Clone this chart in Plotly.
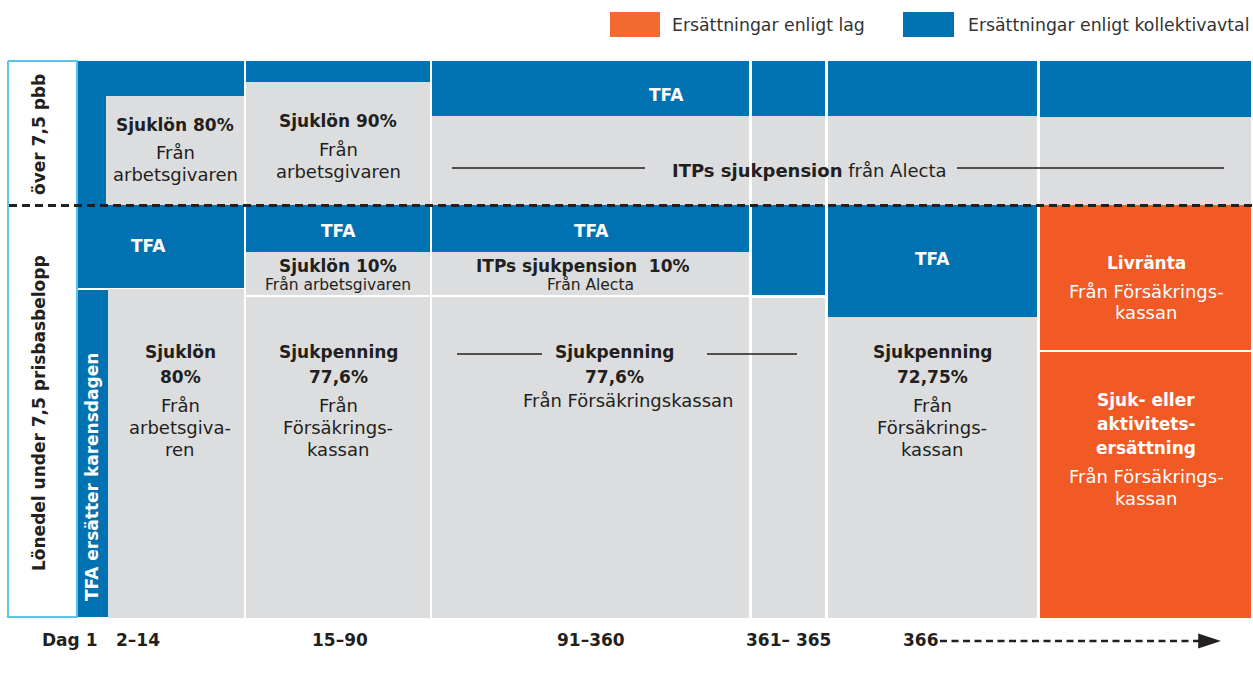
import plotly.graph_objects as go

# ---------------- data ----------------
# Period labels along the bottom
period_labels = ["Dag 1", "2–14", "15–90", "91–360", "361– 365", "366"]
period_x = [70, 138, 340, 591, 788, 921]

# Column edges (diagram units)
col_x0 = [77, 246, 432, 752, 828, 1040]
col_x1 = [244, 430, 749, 825, 1037, 1251]

# Blocks: column index, top, bottom, kind
blk_col = [0, 1, 1, 2, 2, 3, 3, 4, 4, 5, 5,
           0, 1, 1, 1, 2, 2, 2, 3, 3, 4, 4, 5, 5]
blk_y0 = [61, 61, 82, 61, 116, 61, 116, 61, 116, 61, 117,
          205, 205, 252, 297, 205, 252, 297, 205, 298, 205, 317, 205, 352]
blk_y1 = [205, 82, 205, 116, 205, 116, 205, 116, 205, 117, 205,
          288, 252, 295, 618, 252, 295, 618, 295, 618, 317, 618, 350, 618]
blk_kind = ["avtal", "avtal", "other", "avtal", "other", "avtal", "other", "avtal", "other", "avtal", "other",
            "avtal", "avtal", "other", "other", "avtal", "other", "other", "avtal", "other", "avtal", "other", "lag", "lag"]

# Extra sub-blocks in the first column
sub_x0 = [106, 108, 77]
sub_x1 = [244, 244, 108]
sub_y0 = [96, 289, 290]
sub_y1 = [205, 618, 617]
sub_kind = ["other", "other", "avtal"]

legend_names = ["Ersättningar enligt lag", "Ersättningar enligt kollektivavtal"]

# ---------------- styles ----------------
BLUE = "#0072b2"
GREY = "#dcdddf"
ORANGE = "#f15a24"
DARK = "#231f20"
CYAN = "#5cc3ea"
FONT = "DejaVu Sans, Liberation Sans, Arial, sans-serif"
kind_color = {"avtal": BLUE, "other": GREY, "lag": ORANGE}
B = 17      # bold size
R = 18      # regular size
S = 15.5    # small size

fig = go.Figure()

def add_blocks(x0s, x1s, y0s, y1s, kinds):
    fig.add_trace(go.Bar(
        x=[(a + b) / 2 for a, b in zip(x0s, x1s)],
        width=[b - a for a, b in zip(x0s, x1s)],
        base=y0s,
        y=[b - a for a, b in zip(y0s, y1s)],
        marker=dict(color=[kind_color[k] for k in kinds], line=dict(width=0)),
        hoverinfo="skip", showlegend=False,
    ))

add_blocks([col_x0[c] for c in blk_col], [col_x1[c] for c in blk_col], blk_y0, blk_y1, blk_kind)
add_blocks(sub_x0, sub_x1, sub_y0, sub_y1, sub_kind)

# legend swatches
fig.add_trace(go.Bar(
    x=[635, 928.5], width=[50, 51], base=[12, 12], y=[25, 25],
    marker=dict(color=["#f36a30", BLUE], line=dict(width=0)),
    hoverinfo="skip", showlegend=False,
))

# left label box outline
fig.add_trace(go.Scatter(
    x=[8, 77, 77, 8, 8], y=[61, 61, 617, 617, 61], mode="lines",
    line=dict(color=CYAN, width=2), hoverinfo="skip", showlegend=False,
))

# dashed separator
fig.add_trace(go.Scatter(
    x=[9, 1253], y=[205.5, 205.5], mode="lines",
    line=dict(color=DARK, width=3, dash="8px,5px"), hoverinfo="skip", showlegend=False,
))

# guide lines
for xs, y in [([452, 645], 168), ([957, 1224], 168), ([457, 542], 354), ([707, 797], 354)]:
    fig.add_trace(go.Scatter(
        x=xs, y=[y, y], mode="lines", line=dict(color=DARK, width=1.5),
        hoverinfo="skip", showlegend=False,
    ))

# bottom arrow
fig.add_trace(go.Scatter(
    x=[940, 1212], y=[641, 641], mode="lines",
    line=dict(color=DARK, width=2.6, dash="7px,4.5px"), hoverinfo="skip", showlegend=False,
))
fig.add_trace(go.Scatter(
    x=[1221], y=[641], mode="markers",
    marker=dict(symbol="arrow", angle=90, size=24, color=DARK, line=dict(width=0)),
    hoverinfo="skip", showlegend=False,
))

def txt(x, y, s, size=17, color=DARK, angle=0):
    fig.add_annotation(x=x, y=y, text=s, showarrow=False, textangle=angle,
                       font=dict(family=FONT, size=size, color=color),
                       xanchor="center", yanchor="middle")

# legend text
for x, name in zip([670, 966], legend_names):
    fig.add_annotation(x=x, y=25, text=name, showarrow=False, xanchor="left", yanchor="middle",
                       font=dict(family=FONT, size=17.3, color="#333333"))

# rotated labels
txt(39, 135, "<b>över 7,5 pbb</b>", B, DARK, -90)
txt(39, 413, "<b>Lönedel under 7,5 prisbasbelopp</b>", B, DARK, -90)
txt(92, 477, "<b>TFA ersätter karensdagen</b>", B, "white", -90)

# upper row
txt(175, 125, "<b>Sjuklön 80%</b>", B)
txt(175, 152, "Från", R)
txt(175, 174, "arbetsgivaren", R)
txt(338, 121, "<b>Sjuklön 90%</b>", B)
txt(338, 149, "Från", R)
txt(338, 171, "arbetsgivaren", R)
txt(666, 95, "<b>TFA</b>", B, "white")
txt(809, 170, "<b>ITPs sjukpension</b> från Alecta", R)

# lower row top blocks
txt(148, 246, "<b>TFA</b>", B, "white")
txt(338, 231, "<b>TFA</b>", B, "white")
txt(591, 231, "<b>TFA</b>", B, "white")
txt(932, 259, "<b>TFA</b>", B, "white")
txt(338, 266, "<b>Sjuklön 10%</b>", B)
txt(338, 285, "Från arbetsgivaren", S)
txt(583, 266, "<b>ITPs sjukpension  10%</b>", B)
txt(590, 285, "Från Alecta", S)
txt(1146, 263, "<b>Livränta</b>", B, "white")
txt(1146, 291, "Från Försäkrings-", R, "white")
txt(1146, 312, "kassan", R, "white")

# lower row main blocks
for x, lines in [
    (180, ["<b>Sjuklön</b>", "<b>80%</b>", "Från", "arbetsgiva-", "ren"]),
    (338, ["<b>Sjukpenning</b>", "<b>77,6%</b>", "Från", "Försäkrings-", "kassan"]),
    (932, ["<b>Sjukpenning</b>", "<b>72,75%</b>", "Från", "Försäkrings-", "kassan"]),
]:
    for s, y, sz in zip(lines, [352, 377, 405, 427, 449], [B, B, R, R, R]):
        txt(x, y, s, sz)
txt(614, 352, "<b>Sjukpenning</b>", B)
txt(614, 377, "<b>77,6%</b>", B)
txt(628, 400, "Från Försäkringskassan", R)

for s, y, sz in zip(["<b>Sjuk- eller</b>", "<b>aktivitets-</b>", "<b>ersättning</b>", "Från Försäkrings-", "kassan"],
                    [400, 424, 448, 476, 498], [B, B, B, R, R]):
    txt(1146, y, s, sz, "white")

# bottom period labels
for s, x in zip(period_labels, period_x):
    txt(x, 640, "<b>" + s + "</b>", B)

fig.update_layout(
    width=1253, height=689,
    margin=dict(l=0, r=0, t=0, b=0),
    paper_bgcolor="white", plot_bgcolor="white",
    barmode="overlay", bargap=0,
    xaxis=dict(range=[0, 1253], visible=False, fixedrange=True),
    yaxis=dict(range=[689, 0], visible=False, fixedrange=True),
    showlegend=False,
)
fig.write_html(
    "out.html",
    config={"responsive": False, "displayModeBar": False},
    post_script="document.body.style.margin='0';document.body.style.overflow='hidden';",
)
